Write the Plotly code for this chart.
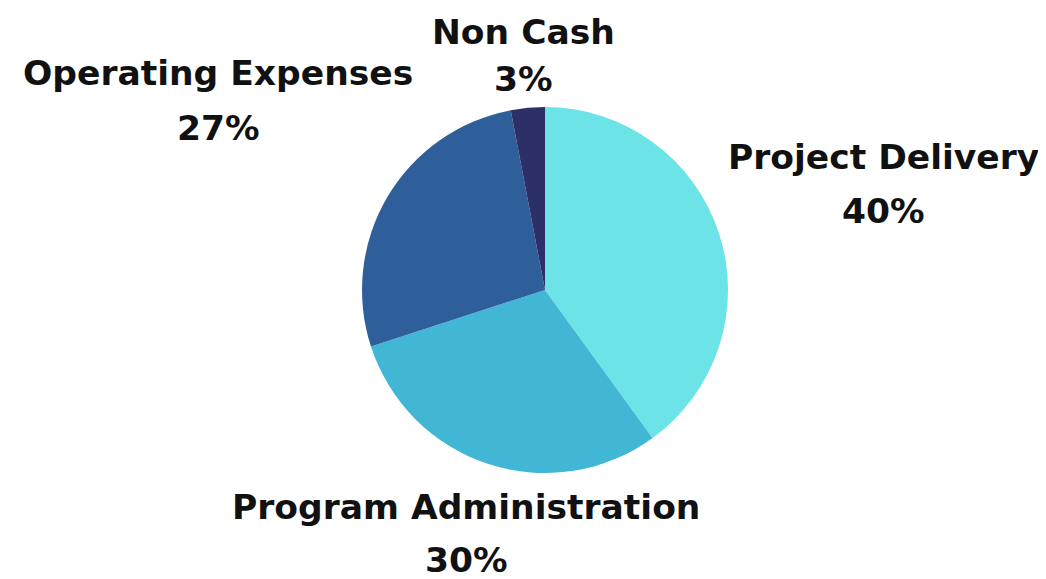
import plotly.graph_objects as go

W, H = 1046, 579
OFF = 8  # margen por defecto del <body>

categorias = ["Project Delivery", "Program Administration", "Operating Expenses", "Non Cash"]
porcentajes = [40, 30, 27, 3]
colores = ["#6BE3E7", "#42B7D5", "#2E5F9A", "#2D2F69"]

# Centros de las etiquetas (px): nombre y porcentaje
pos_etiquetas = {
    "Project Delivery": ((883, 157), (883, 211)),
    "Program Administration": ((466, 507), (466, 560)),
    "Operating Expenses": ((218, 73), (218, 128)),
    "Non Cash": ((523, 32), (523, 79)),
}

FUENTE = dict(family="DejaVu Sans", size=34.5, color="#111111")

cx, cy, r = 545 - OFF, 290 - OFF, 183

fig = go.Figure(go.Pie(
    labels=categorias, values=porcentajes, sort=False, direction="clockwise",
    rotation=0, marker=dict(colors=colores, line=dict(width=0)),
    textinfo="none", hoverinfo="label+percent", showlegend=False,
    domain=dict(x=[(cx - r) / W, (cx + r) / W], y=[1 - (cy + r) / H, 1 - (cy - r) / H]),
))

for cat, pct in zip(categorias, porcentajes):
    (x1, y1), (x2, y2) = pos_etiquetas[cat]
    for (x, y), txt in (((x1, y1), cat), ((x2, y2), f"{pct}%")):
        fig.add_annotation(
            x=(x - OFF) / W, y=1 - (y - OFF) / H, xref="paper", yref="paper", showarrow=False,
            text=f"<b>{txt}</b>", font=FUENTE, xanchor="center", yanchor="middle",
        )

fig.update_layout(
    width=W, height=H, margin=dict(l=0, r=0, t=0, b=0),
    paper_bgcolor="white", plot_bgcolor="white",
)
fig.write_html("out.html")
